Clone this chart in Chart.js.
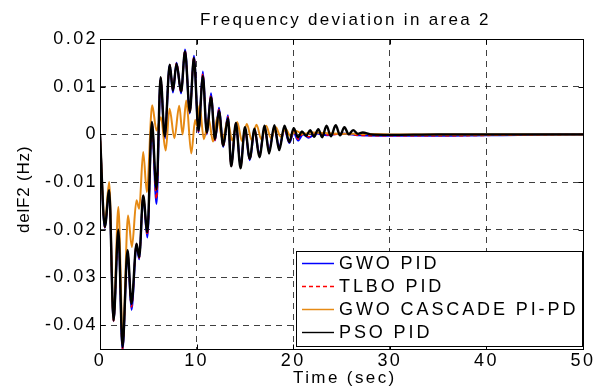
<!DOCTYPE html>
<html>
<head>
<meta charset="utf-8">
<script src="https://cdn.jsdelivr.net/npm/chart.js@4.4.0/dist/chart.umd.min.js"></script>
<style>
    html, body { margin: 0; padding: 0; background: #fff; }
    canvas { display: block; }
</style>
</head>
<body>
<canvas id="chart" width="601" height="390"></canvas>
<script>
/* ================= DATA ================= */
const xTicks = [0, 10, 20, 30, 40, 50];
const yTicks = [-0.04, -0.03, -0.02, -0.01, 0, 0.01, 0.02];
const seriesNames = ["GWO PID", "TLBO PID", "GWO CASCADE PI-PD", "PSO PID"];

// PSO PID (black)
const psoT = [0, 0.5, 0.95, 1.4, 1.9, 2.33, 2.85, 3.26, 3.78, 4.06, 4.47, 4.9, 5.37, 5.85, 6.27, 6.7,
    7.22, 7.55, 7.92, 8.4, 8.8, 9.3, 9.72, 10.2, 10.65, 11.05, 11.5, 11.9, 12.32, 12.75, 13.25, 13.58,
    14.07, 14.55, 15.0, 15.5, 16.0, 16.5, 17.05, 17.5, 18.05, 18.55, 19.1, 19.6, 20.05, 20.5, 20.9,
    21.35, 21.75, 22.15, 22.6, 23.0, 23.45, 23.9, 24.4, 24.85, 25.3, 25.75, 26.2, 26.7, 27.2, 28.0,
    30, 35, 50];
const psoV = [0, -0.0194, -0.0117, -0.039, -0.020, -0.0446, -0.0243, -0.0355, -0.0229, -0.0257, -0.0128,
    -0.0205, 0.0026, -0.0115, 0.012, -0.0004, 0.0146, 0.0092, 0.0148, 0.009, 0.0174, 0.0047, 0.016,
    0.0008, 0.0122, 0.0004, 0.0078, -0.001, 0.0049, -0.0024, 0.0034, -0.0067, 0.0024, -0.0071, 0.0015,
    -0.0051, 0.0012, -0.0048, 0.0018, -0.0040, 0.0019, -0.0033, 0.0018, -0.0016, 0.0013, -0.0006,
    0.0006, -0.0003, 0.0009, -0.0005, 0.0011, -0.0006, 0.0018, -0.0004, 0.0019, -0.0002, 0.0015, 0.0,
    0.0009, 0.0001, 0.0004, 0.0, -0.0001, 0, 0];

// GWO PID (blue) and TLBO PID (red dashed) share time points
const pidT = [0, 0.5, 0.95, 1.4, 1.9, 2.33, 2.85, 3.26, 3.78, 4.06, 4.47, 4.9, 5.37, 5.85, 6.27, 6.7,
    7.22, 7.55, 7.92, 8.4, 8.8, 9.3, 9.72, 10.2, 10.65, 11.05, 11.5, 11.9, 12.32, 12.75, 13.25, 13.58,
    14.07, 14.55, 15.0, 15.5, 16.0, 16.5, 17.05, 17.5, 18.05, 18.55, 19.1, 19.6, 20.05, 20.5, 21.0,
    21.6, 22.4, 23.5, 25, 27, 30, 35, 40, 45, 50];
const gwoV = [0, -0.0196, -0.0118, -0.0392, -0.0203, -0.0452, -0.0247, -0.0368, -0.0232, -0.0262,
    -0.0131, -0.0216, 0.0022, -0.0146, 0.0118, -0.0009, 0.0146, 0.0088, 0.0150, 0.0086, 0.0178, 0.0044,
    0.0165, 0.0004, 0.0132, 0.0, 0.0086, -0.0013, 0.0056, -0.0026, 0.0040, -0.0066, 0.0022, -0.0066,
    0.0012, -0.0054, 0.0008, -0.0042, 0.0012, -0.0032, 0.0012, -0.0026, 0.0010, -0.0018, 0.0004,
    -0.0013, 0.0, -0.0007, 0.0002, -0.0002, 0.0002, -0.0002, -0.0003, -0.0003, -0.0002, -0.0001, 0];
const tlboV = [0, -0.0195, -0.0117, -0.0391, -0.0201, -0.0449, -0.0245, -0.0362, -0.0230, -0.0259,
    -0.0129, -0.0211, 0.0024, -0.0135, 0.0119, -0.0007, 0.0146, 0.0093, 0.0149, 0.0088, 0.0176, 0.0046,
    0.0162, 0.0006, 0.0127, 0.0002, 0.0082, -0.0012, 0.0052, -0.0025, 0.0037, -0.0066, 0.0023, -0.0068,
    0.0013, -0.0052, 0.0010, -0.0044, 0.0014, -0.0035, 0.0014, -0.0028, 0.0012, -0.0016, 0.0006,
    -0.0010, 0.0001, -0.0005, 0.0002, -0.0001, 0.0001, -0.0002, -0.0003, -0.0003, -0.0002, -0.0001, 0];

// GWO CASCADE PI-PD (orange)
const cascT = [0, 0.5, 0.95, 1.4, 1.9, 2.36, 2.9, 3.3, 3.78, 4.06, 4.47, 4.85, 5.4, 5.85, 6.3, 6.8,
    7.2, 7.7, 8.2, 8.55, 8.93, 9.45, 9.85, 10.05, 10.3, 10.75, 11.25, 11.7, 12.15, 12.7, 13.2, 13.7,
    14.2, 14.7, 15.2, 15.7, 16.2, 16.7, 17.2, 17.7, 18.2, 18.7, 19.2, 19.7, 20.3, 21.0, 22.0, 24, 27,
    30, 50];
const cascV = [0, -0.0187, -0.0100, -0.0390, -0.0152, -0.0432, -0.0170, -0.0236, -0.0138, -0.0156,
    -0.0037, -0.0121, 0.0061, 0.0008, 0.0036, -0.0034, 0.0054, -0.0008, 0.0060, 0.0, 0.0071, -0.0040,
    0.0030, 0.0018, 0.0061, -0.0010, 0.0032, -0.0015, 0.0036, -0.0012, 0.0029, -0.0013, 0.0026, -0.0014,
    0.0022, -0.0012, 0.0020, -0.0010, 0.0018, -0.0008, 0.0015, -0.0005, 0.0012, -0.0003, 0.0007, 0.0001,
    0.0004, 0.0002, 0.0001, 0, 0];

/* ================= STYLE ================= */
const FONT = "'Liberation Sans', Arial, Helvetica, sans-serif";
const colors = ["#0000ff", "#ff0000", "#e68a14", "#000000"];
const widths = [2, 1.6, 2, 2.4];
const dashes = [[], [4, 3], [], []];

function zip(t, v) {
    return t.map((x, i) => ({ x: x, y: v[i] }));
}

const seriesData = [zip(pidT, gwoV), zip(pidT, tlboV), zip(cascT, cascV), zip(psoT, psoV)];
const drawOrder = [4, 3, 2, 1]; // black on top

/* ================= FRAME / LEGEND / TITLES ================= */
const framePlugin = {
    id: "frame",
    beforeDraw(chart) {
        chart.ctx.letterSpacing = "2.4px";
    },
    afterDraw(chart) {
        const { ctx, chartArea: a, scales } = chart;
        const L = Math.round(a.left) + 0.5, R = Math.round(a.right) + 0.5;
        const T = Math.round(a.top) + 0.5, B = Math.round(a.bottom) + 0.5;
        ctx.save();
        ctx.setLineDash([]);
        ctx.strokeStyle = "#000";
        ctx.lineWidth = 1;
        ctx.strokeRect(L, T, R - L, B - T);

        // inward ticks
        ctx.beginPath();
        xTicks.forEach(v => {
            const px = Math.round(scales.x.getPixelForValue(v)) + 0.5;
            ctx.moveTo(px, B); ctx.lineTo(px, B - 5);
            ctx.moveTo(px, T); ctx.lineTo(px, T + 5);
        });
        yTicks.forEach(v => {
            const py = Math.round(scales.y.getPixelForValue(v)) + 0.5;
            ctx.moveTo(L, py); ctx.lineTo(L + 5, py);
            ctx.moveTo(R, py); ctx.lineTo(R - 5, py);
        });
        ctx.stroke();

        // title
        ctx.fillStyle = "#000";
        ctx.textBaseline = "alphabetic";
        ctx.textAlign = "left";
        ctx.font = "17px " + FONT;
        ctx.letterSpacing = "2.3px";
        ctx.fillText("Frequency deviation in area 2", 200, 25);

        // x title
        ctx.letterSpacing = "2.4px";
        ctx.fillText("Time (sec)", 293, 383);

        // y title
        ctx.save();
        ctx.translate(29, 233);
        ctx.rotate(-Math.PI / 2);
        ctx.letterSpacing = "0.8px";
        ctx.fillText("delF2 (Hz)", 0, 0);
        ctx.restore();

        // legend
        const bx = 296.5, by = 251.5, bw = 286, bh = 95;
        ctx.fillStyle = "#fff";
        ctx.fillRect(bx, by, bw, bh);
        ctx.strokeStyle = "#000";
        ctx.lineWidth = 1;
        ctx.strokeRect(bx, by, bw, bh);

        const rows = [263.5, 286.5, 309.5, 332.5];
        ctx.font = "18px " + FONT;
        ctx.letterSpacing = "2.9px";
        ctx.textBaseline = "middle";
        seriesNames.forEach((name, i) => {
            ctx.beginPath();
            ctx.strokeStyle = colors[i];
            ctx.lineWidth = i === 3 ? 1.4 : 1.5;
            ctx.setLineDash(dashes[i]);
            ctx.moveTo(302, rows[i]);
            ctx.lineTo(334, rows[i]);
            ctx.stroke();
            ctx.setLineDash([]);
            ctx.fillStyle = "#000";
            ctx.fillText(name, 339, rows[i] + 1);
        });
        ctx.restore();
    }
};

/* ================= CHART ================= */
const datasets = seriesNames.map((name, i) => ({
    label: name,
    data: seriesData[i],
    borderColor: colors[i],
    borderWidth: widths[i],
    borderDash: dashes[i],
    pointRadius: 0,
    fill: false,
    cubicInterpolationMode: "monotone",
    order: drawOrder[i]
}));

new Chart(document.getElementById("chart"), {
    type: "line",
    data: { datasets: datasets },
    options: {
        responsive: false,
        animation: false,
        events: [],
        layout: { padding: { left: 0, right: 18, top: 39, bottom: 0 } },
        plugins: {
            legend: { display: false },
            title: { display: false },
            tooltip: { enabled: false }
        },
        scales: {
            x: {
                type: "linear",
                min: 0,
                max: 50,
                afterBuildTicks: s => { s.ticks = xTicks.map(v => ({ value: v })); },
                afterFit: s => { s.height = 41; },
                ticks: {
                    autoSkip: false,
                    maxRotation: 0,
                    padding: 1,
                    color: "#000",
                    font: { family: FONT, size: 18 }
                },
                grid: { color: "rgba(0,0,0,0.75)", lineWidth: 1, drawTicks: false },
                border: { display: false, dash: [6, 5] }
            },
            y: {
                type: "linear",
                min: -0.045,
                max: 0.02,
                afterBuildTicks: s => { s.ticks = yTicks.map(v => ({ value: v })); },
                afterFit: s => { s.width = 100; },
                ticks: {
                    autoSkip: false,
                    padding: 2,
                    color: "#000",
                    font: { family: FONT, size: 18 },
                    callback: v => (v === 0 ? "0" : v.toFixed(2))
                },
                grid: { color: "rgba(0,0,0,0.75)", lineWidth: 1, drawTicks: false },
                border: { display: false, dash: [6, 5] }
            }
        }
    },
    plugins: [framePlugin]
});
</script>
</body>
</html>
